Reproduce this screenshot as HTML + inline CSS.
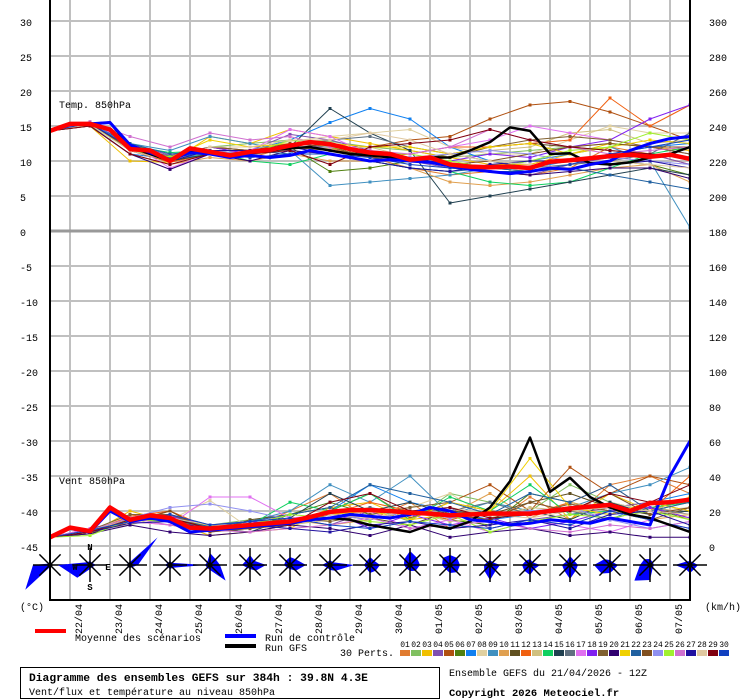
<!DOCTYPE html>
<html><head><meta charset="utf-8"><style>
html,body{margin:0;padding:0;background:#fff;}
svg{display:block;font-family:"Liberation Mono",monospace;}
</style></head><body>
<svg id="c" width="740" height="700" viewBox="0 0 740 700">
<defs><clipPath id="pc"><rect x="50" y="0" width="640" height="548"/></clipPath></defs>
<g id="grid"></g>
<g id="series" clip-path="url(#pc)"></g>
<g id="roses"></g>
<g id="axes"></g>
<text x="59" y="108" font-size="10">Temp. 850hPa</text>
<text x="59" y="484" font-size="10">Vent 850hPa</text>
<text x="20" y="610" font-size="10">(°C)</text>
<text x="705" y="610" font-size="10">(km/h)</text>
<g>
<rect x="35" y="629" width="31" height="4" fill="#f00"/>
<text x="75" y="641" font-size="10">Moyenne des scénarios</text>
<rect x="225" y="634" width="31" height="4" fill="#00f"/>
<text x="265" y="641" font-size="10">Run de contrôle</text>
<rect x="225" y="644" width="31" height="4" fill="#000"/>
<text x="265" y="651" font-size="10">Run GFS</text>
<text x="340" y="656" font-size="10">30 Perts.</text>
<g id="pertleg"></g>
</g>
<rect x="20.5" y="667.5" width="419" height="31" fill="none" stroke="#000"/>
<text x="29" y="681" font-size="11.3" font-weight="bold">Diagramme des ensembles GEFS sur 384h : 39.8N 4.3E</text>
<text x="29" y="695" font-size="10">Vent/flux et température au niveau 850hPa</text>
<text x="449" y="676" font-size="10">Ensemble GEFS du 21/04/2026 - 12Z</text>
<text x="449" y="696" font-size="10.5" font-weight="bold">Copyright 2026 Meteociel.fr</text>
</svg>
<script>
const dates=["22/04","23/04","24/04","25/04","26/04","27/04","28/04","29/04","30/04","01/05","02/05","03/05","04/05","05/05","06/05","07/05"];
const leftTicks=[30,25,20,15,10,5,0,-5,-10,-15,-20,-25,-30,-35,-40,-45];
const memberColors=["#e07b30","#80c060","#f0c000","#8050b0","#b05010","#508010","#1080f0","#e0d0a0","#4090c0","#e0a050","#605020","#f06010","#d0c080","#10d060","#204050","#607080","#e070f0","#8020f0","#806030","#300070","#f0d000","#2060a0","#805020","#9090f0","#a0f030","#d070d0","#2010a0","#e0c8a0","#800010","#1040c0"];
const tempMean=[14.3,15.3,15.3,14.5,11.7,11.5,10.0,11.8,11.3,10.8,11.3,11.6,12.2,12.7,12.4,11.7,11.2,11.0,10.2,10.5,9.5,9.2,9.1,9.2,9.0,9.9,10.1,10.4,10.7,10.9,10.6,10.9,10.3];
const tempControl=[14.3,15.2,15.3,15.5,12.3,11.2,10.2,11.2,11.0,10.5,10.8,10.5,10.8,11.5,11.0,10.5,10.0,10.2,10.0,9.8,9.3,8.8,8.5,8.2,8.5,9.0,8.8,9.5,10.0,11.5,12.5,13.2,13.5];
const tempGfs=[14.3,15.2,15.3,15.5,12.0,11.0,10.0,11.3,11.0,10.8,11.2,11.5,11.8,12.0,11.5,11.0,10.8,10.5,10.0,10.5,10.5,11.5,12.7,14.8,14.3,11.0,11.1,9.7,9.5,9.8,10.5,11.0,12.0];
const windMean=[5,10.5,8.5,22,15,17.5,16,10.5,10,11,12,13,14,16.5,19.5,20.5,20.5,20,19,18.5,17.5,18,18.5,18.5,18.5,20,21.5,22.5,23.5,20,24.5,25,26.5];
const windControl=[5,10,8,20,14,16,14,8,9,10,11,12,13,15,16,18,17,16,18,22,20,15,14,12,13,15,14,13,16,14,12,40,60];
const windGfs=[5,10,8,21,15,17,15,10,10,11,12,12,14,15,16,15,12,10,8,12,10,14,22,37,62,31,39,28,22,18,16,12,8];
const tempMembers=[
[14.3,15.4,11.5,10.2,11,10.5,12,11.8,10.5,9,8,8.5,8,9,12,11,9.5],
[14.3,15.2,12,10.5,12,12.5,13,12.8,12,11.5,10.5,11,11.5,12,12.5,12,11],
[14.3,15,10,9.8,13.5,12.5,14.5,13.5,12.5,11.5,10.5,9.5,9.5,11,12.5,12,11.5],
[14.3,15.5,12.5,10.8,12,11.5,13.8,13,11.5,10,9,8.5,8,9.5,10.5,11,9.5],
[14.3,15.3,11.5,10,11,11,12.5,12.5,12,13,13.5,16,18,18.5,17,15,13],
[14.3,15.2,12,10.6,11.5,11,12,8.5,9,10,9.5,9,8.5,9,10,9.5,8],
[14.3,15.1,11,10.3,11,11.5,13,15.5,17.5,16,12,10,9,10,11,12,12.5],
[14.3,15.6,12,10,12,11.5,12.8,13.5,14,14.5,12,11,11,13,15,14,14],
[14.3,15.4,12.5,11.5,13.5,12.5,11.5,6.5,7,7.5,8,9,10,11,12,10,0.5],
[14.3,15,11,9.5,10.5,10,11,10,10,9,7,6.5,7,8,9,9.5,7],
[14.3,15.3,12,10.3,12,11,12.5,12,11,10,11,12,12.5,12,11.5,11,10.5],
[14.3,15.5,11.5,9.8,11,11,12,11.5,10.5,11,12,12,12.5,13,19,15,18],
[14.3,15.2,11.8,10.2,11.5,10.8,12,11.8,12,10.5,11,11.5,12,14,14.5,12.5,13],
[14.3,15.4,12.2,11.2,11.5,10,9.5,11,10,9,8.5,7,6.5,7,9,11,12],
[14.3,15.3,11.5,10,11,11,12,17.5,14,11.5,4,5,6,7,8,9,8],
[14.3,15.1,12,10.7,12,11.5,12,13,13.5,12,11,10,9,9.5,10,11,14],
[14.3,15.6,12.5,9,11,11.5,14.5,13.5,11,11,12,13,15,14,13,12,11],
[14.3,15.3,12,10,12,11,12.5,12,11.5,10.5,10,11,10.5,12,13,16,18],
[14.3,15.2,11.8,10.4,11.5,11,12,11.5,11,10,10.5,12,13,13.5,13,12,11],
[14.3,15,11,8.8,11,10,11.5,11,10,10.5,9.5,8.5,8,8.5,9,9,7.5],
[14.3,15.4,12,10.5,13,12,12.5,12.5,12,12,11,12,12.5,11,12,13,12.5],
[14.3,15.3,12.5,11,11.5,11.5,11,11,10,9,8.5,9,8.5,9,8,7,6],
[14.3,15.1,12,10.5,12,11.5,12.5,12,10.5,10,9.5,10,11,12,12.5,12,12],
[14.3,15.5,12,10.2,11.5,11,12,12,11.5,10.5,11,11.5,11,10,10.5,10,9.5],
[14.3,15.2,11.5,10.6,11,11,13,12,11,11,10,9,10,11.5,12,14,13],
[14.3,15.6,13.5,12,14,13,13.5,12,11.5,11,12,14.5,13,12,11,11.5,12],
[14.3,15.3,12,10,11.5,11.5,12,11,10,9,8.5,9.5,10,10,9.5,10,9],
[14.3,15.2,11.5,10,12,12,13,13,14,13,11,10,9.5,9,10,9.5,9],
[14.3,15,11,9.5,11,11,11.5,9.5,12,12.5,13,14.5,13,12,11.5,11,10.5],
[14.3,15.4,12,10.3,11.5,10.5,11,11,10.5,9.5,9,8.5,8.5,9.5,11,12,13]];
const windMembers=[
[5,8,14,12,8,10,20,30,15,25,10,12,28,15,35,40,30],
[5,9,16,18,12,15,12,18,22,14,30,25,20,35,25,20,25],
[5,7,20,14,6,8,10,22,25,15,18,20,40,15,30,20,28],
[5,10,15,16,9,14,16,12,20,18,22,10,15,18,22,25,20],
[5,9,13,20,10,8,12,20,30,16,25,35,20,45,30,40,35],
[5,8,16,14,12,10,18,25,18,20,15,12,30,25,20,22,15],
[5,9,14,18,8,12,15,20,35,25,20,15,18,22,15,25,30],
[5,8,18,15,26,10,14,16,20,22,30,16,20,15,25,20,22],
[5,8,15,16,12,14,20,35,25,40,18,25,20,22,30,35,45],
[5,9,16,18,10,12,15,12,15,20,18,30,16,25,20,15,18],
[5,7,15,16,8,15,18,22,16,12,20,18,25,30,22,18,20],
[5,8,17,20,10,12,14,18,25,20,15,20,18,25,35,20,40],
[5,9,12,18,11,10,12,15,18,20,14,16,22,20,18,25,15],
[5,8,16,15,9,12,25,20,30,15,28,20,35,18,20,22,25],
[5,9,14,16,10,8,16,30,20,25,18,15,20,15,25,18,20],
[5,8,15,14,11,10,14,16,22,18,20,25,18,20,15,22,18],
[5,10,14,12,28,28,16,18,20,10,15,8,14,12,8,15,10],
[5,8,15,17,12,14,12,20,10,18,12,16,10,14,20,22,16],
[5,9,18,18,10,12,16,14,18,22,25,20,18,24,20,15,22],
[5,7,12,8,6,8,12,10,6,12,5,8,10,6,8,5,5],
[5,8,16,15,12,10,14,18,20,15,25,20,50,22,18,25,20],
[5,9,15,16,11,14,18,22,35,30,25,18,30,25,35,20,25],
[5,8,14,20,8,10,12,18,15,20,18,15,25,20,30,18,22],
[5,9,16,22,24,20,15,18,15,20,16,18,20,22,15,10,14],
[5,6,15,14,10,12,18,16,14,12,18,8,14,18,16,20,15],
[5,9,16,12,9,8,10,12,16,10,12,14,10,8,12,10,14],
[5,8,13,14,10,12,10,8,12,14,10,12,15,10,18,20,12],
[5,9,15,16,12,12,14,18,16,20,22,18,16,20,22,20,18],
[5,8,15,16,10,12,12,25,30,20,22,16,18,20,30,25,35],
[5,9,14,18,12,14,16,12,10,14,12,10,15,12,20,15,10]];
// wind rose radii in px: N,NE,E,SE,S,SW,W,NW
const roseRadii=[
[2,2,2,2,2,35,17,2],[4,3,6,3,4,18,32,4],[3,39,8,3,3,3,3,3],[4,3,35,4,4,3,5,3],
[12,8,10,22,5,4,5,4],[10,6,16,8,4,4,8,6],[8,8,16,8,4,4,6,6],[5,4,24,8,5,4,8,4],
[8,6,10,8,8,5,6,5],[14,10,10,8,6,5,6,8],[10,10,10,10,8,6,8,10],[5,4,10,8,15,8,6,4],
[6,4,10,6,10,8,8,6],[9,6,8,8,14,8,8,5],[5,4,8,6,8,12,16,8],[6,4,4,4,15,22,10,8],[4,4,8,6,8,6,15,5]];

const NS="http://www.w3.org/2000/svg";
function mk(tag,attrs,parent){const e=document.createElementNS(NS,tag);for(const k in attrs)e.setAttribute(k,attrs[k]);parent.appendChild(e);return e;}
const X0=50,X1=690;
function xDay(i){return X0+40*i;}
function xStep(k){return X0+20*k;}
function yT(v){return 231-7*v;}
function yW(kmh){return 546-1.75*kmh;}
const grid=document.getElementById('grid'),ser=document.getElementById('series'),axes=document.getElementById('axes'),roses=document.getElementById('roses');

for(let i=0;i<dates.length;i++){
  const x=70+40*i;
  const g=mk('line',{x1:x,y1:0,x2:x,y2:600,stroke:'#c0c0c0','stroke-width':2},grid);
  
  
  const t=mk('text',{x:0,y:0,'font-size':10,'text-anchor':'end',transform:`translate(${x+12},604) rotate(-90)`},axes);
  t.textContent=dates[i];
  
  
}
leftTicks.forEach(v=>{
  const y=yT(v);
  const l=mk('line',{x1:X0,y1:y,x2:X1,y2:y,stroke:v===0?'#999':'#c0c0c0','stroke-width':v===0?3:2},grid);
  
  
  const t=mk('text',{x:20,y:y+5,'font-size':10},axes);
  t.textContent=v;
  
  
  const r=mk('text',{x:709,y:y+5,'font-size':10},axes);
  r.textContent=180+4*v;
  
  
});
const al=mk('path',{d:`M${X0},0V600H${X1}V0`,fill:'none',stroke:'#000','stroke-width':2},axes);



function poly(vals,xf,yf,color,w,name){
  const pts=vals.map((v,i)=>xf(i).toFixed(1)+','+yf(v).toFixed(1)).join(' ');
  const p=mk('polyline',{points:pts,fill:'none',stroke:color,'stroke-width':w,'stroke-linejoin':'round'},ser);
  
  
  return p;
}
function marks(vals,xf,yf,color){
  vals.forEach((v,i)=>{
    const r=mk('rect',{x:xf(i)-1.5,y:yf(v)-1.5,width:3,height:3,fill:color},ser);
    
    
  });
}
tempMembers.forEach((m,j)=>{poly(m,xDay,yT,memberColors[j],1,'temp-member-'+(j+1));marks(m,xDay,yT,memberColors[j]);});
windMembers.forEach((m,j)=>{poly(m,xDay,yW,memberColors[j],1,'wind-member-'+(j+1));marks(m,xDay,yW,memberColors[j]);});
poly(tempGfs,xStep,yT,'#000',2.5,'temp-gfs-line');
poly(windGfs,xStep,yW,'#000',2.5,'wind-gfs-line');
poly(tempControl,xStep,yT,'#00f',3,'temp-control-line');
poly(windControl,xStep,yW,'#00f',3,'wind-control-line');
poly(tempMean,xStep,yT,'#f00',4.5,'temp-mean-line');
poly(windMean,xStep,yW,'#f00',4.5,'wind-mean-line');

const CY=565;
roseRadii.forEach((rr,i)=>{
  const cx=X0+40*i;
  const pts=rr.map((r,d)=>{const a=d*Math.PI/4;return (cx+r*Math.sin(a)).toFixed(1)+','+(CY-r*Math.cos(a)).toFixed(1);}).join(' ');
  const p=mk('polygon',{points:pts,fill:'#0000ff'},roses);
  
  
  for(let d=0;d<4;d++){
    const a=d*Math.PI/4,L=d%2?15:17;
    const s=mk('line',{x1:cx-L*Math.sin(a),y1:CY+L*Math.cos(a),x2:cx+L*Math.sin(a),y2:CY-L*Math.cos(a),stroke:'#000','stroke-width':1.5},roses);
    
    
  }
  const c=mk('circle',{cx:cx,cy:CY,r:2.5,fill:'#000'},roses);
  
  
});
[['N',90,550],['W',75,570],['E',108,570],['S',90,590]].forEach(([l,x,y])=>{
  const t=mk('text',{x:x,y:y,'font-size':9,'text-anchor':'middle','font-weight':'bold'},roses);
  t.textContent=l;
  
  
});

const pl=document.getElementById('pertleg');
memberColors.forEach((c,j)=>{
  const x=400+11*j;
  const r=mk('rect',{x:x,y:650,width:10,height:6,fill:c},pl);
  
  
  const t=mk('text',{x:x+5,y:647,'font-size':8,'text-anchor':'middle'},pl);
  t.textContent=String(j+1).padStart(2,'0');
  
  
});
</script>
</body></html>
